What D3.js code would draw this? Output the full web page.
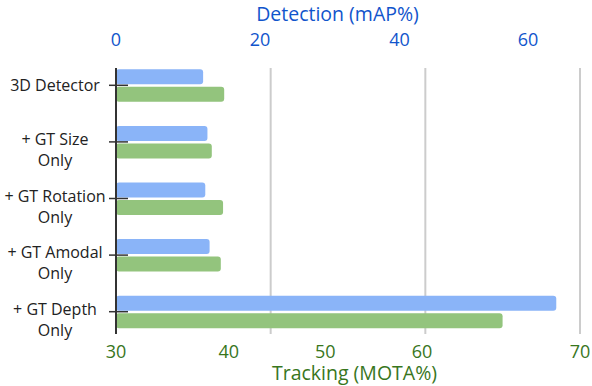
<!DOCTYPE html>
<html>
<head>
<meta charset="utf-8">
<script src="https://cdn.jsdelivr.net/npm/d3@7"></script>
<style>
body { margin: 0; background: #fff; }
svg { font-family: "Open Sans", sans-serif; }
</style>
</head>
<body>
<script>

//------------------------------------------------------------------------------
// Data
//------------------------------------------------------------------------------

var categories = ["3D Detector", "+ GT Size\nOnly", "+ GT Rotation\nOnly", "+ GT Amodal\nOnly", "+ GT Depth\nOnly"];
var detection = [12.1, 12.7, 12.4, 13.0, 64.4];
var tracking = [39.6, 38.5, 39.5, 39.3, 65.1];
var detectionTicks = [0, 20, 40, 60];
var trackingTicks = [30, 40, 50, 60, 70];

//------------------------------------------------------------------------------
// Layout
//------------------------------------------------------------------------------

var width = 592, height = 386;
var axisX = 116, plotTop = 68, plotBottom = 334;
var barHeight = 15;

var svg = d3.select("body").append("svg")
  .attr("width", width)
  .attr("height", height);

// label positions on both axes are uneven in the original, so polylinear scales
var xDet = d3.scaleLinear().domain(detectionTicks).range([116, 260, 399.5, 528]);
var xTrk = d3.scaleLinear().domain(trackingTicks).range([116, 228.7, 325.3, 422, 580]);
var xGrid = d3.scaleLinear().domain([0, 3]).range([axisX, 580]);
var y = d3.scaleBand().domain(d3.range(categories.length)).range([57, 340]);

function center(i) { return y(i) + y.bandwidth() / 2; }

//--------------------------------------
// Grid
//--------------------------------------

svg.append("g").selectAll("line")
  .data([1, 2, 3])
  .enter().append("line")
  .attr("x1", function(d) { return xGrid(d); })
  .attr("x2", function(d) { return xGrid(d); })
  .attr("y1", plotTop)
  .attr("y2", plotBottom)
  .attr("stroke", "#cccccc")
  .attr("stroke-width", 2);

//--------------------------------------
// Bars
//--------------------------------------

svg.append("g").selectAll("rect")
  .data(detection)
  .enter().append("rect")
  .attr("x", xDet(0))
  .attr("y", function(d, i) { return center(i) - barHeight - 1; })
  .attr("width", function(d) { return xDet(d) - xDet(0); })
  .attr("height", barHeight)
  .attr("rx", 3)
  .attr("fill", "#8ab4f8");

svg.append("g").selectAll("rect")
  .data(tracking)
  .enter().append("rect")
  .attr("x", xTrk(30))
  .attr("y", function(d, i) { return center(i) + 1.5; })
  .attr("width", function(d) { return xTrk(d) - xTrk(30); })
  .attr("height", barHeight)
  .attr("rx", 3)
  .attr("fill", "#93c47d");

//--------------------------------------
// Category axis
//--------------------------------------

svg.append("line")
  .attr("x1", axisX).attr("x2", axisX)
  .attr("y1", plotTop).attr("y2", plotBottom)
  .attr("stroke", "#333")
  .attr("stroke-width", 2);

svg.append("g").selectAll("line")
  .data(categories)
  .enter().append("line")
  .attr("x1", 109).attr("x2", 128)
  .attr("y1", function(d, i) { return center(i); })
  .attr("y2", function(d, i) { return center(i); })
  .attr("stroke", "#333")
  .attr("stroke-width", 1.5);

svg.append("g").selectAll("text")
  .data(categories)
  .enter().append("text")
  .attr("text-anchor", "middle")
  .attr("font-size", 16)
  .attr("fill", "#222")
  .each(function(d, i) {
    var t = d3.select(this);
    var lines = d.split("\n");
    var top = center(i) + (lines.length > 1 ? 3 : 6);
    lines.forEach(function(line, k) {
      t.append("tspan")
        .attr("x", 55)
        .attr("y", top + k * 21)
        .text(line);
    });
  });

//--------------------------------------
// Value axes
//--------------------------------------

svg.append("g").selectAll("text")
  .data(detectionTicks)
  .enter().append("text")
  .attr("x", function(d) { return xDet(d); })
  .attr("y", 46)
  .attr("text-anchor", "middle")
  .attr("font-size", 18)
  .attr("fill", "#1155cc")
  .text(function(d) { return d; });

svg.append("g").selectAll("text")
  .data(trackingTicks)
  .enter().append("text")
  .attr("x", function(d) { return xTrk(d); })
  .attr("y", 358)
  .attr("text-anchor", "middle")
  .attr("font-size", 18)
  .attr("fill", "#38761d")
  .text(function(d) { return d; });

svg.append("text")
  .attr("x", 337.5).attr("y", 20.5)
  .attr("text-anchor", "middle")
  .attr("font-size", 19.5)
  .attr("fill", "#1155cc")
  .text("Detection (mAP%)");

svg.append("text")
  .attr("x", 354.5).attr("y", 380)
  .attr("text-anchor", "middle")
  .attr("font-size", 19.5)
  .attr("fill", "#38761d")
  .text("Tracking (MOTA%)");

</script>
</body>
</html>
